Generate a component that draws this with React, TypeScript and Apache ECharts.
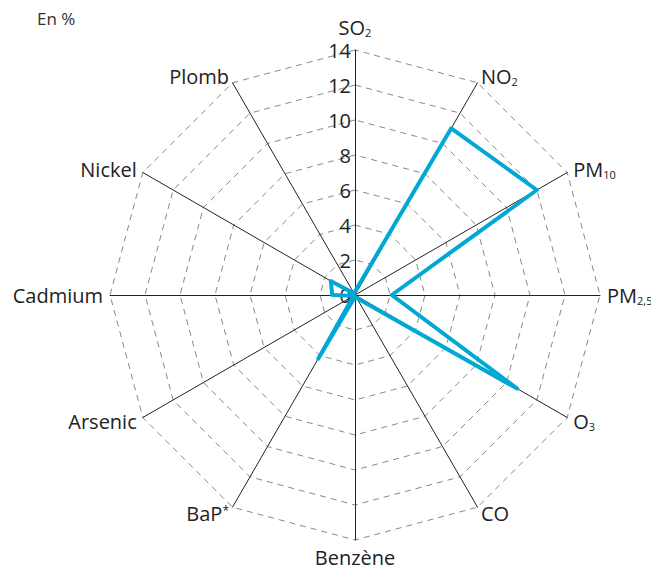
import React, { useEffect, useRef } from "react";
import * as echarts from "echarts";

// Indicators in clockwise order starting at the top
const indicatorNames = ["SO{sub|2}", "NO{sub|2}", "PM{sub|10}", "PM{sub|2,5}", "O{sub|3}", "CO", "Benzène", "BaP{sup|*}", "Arsenic", "Cadmium", "Nickel", "Plomb"];
const values = [0.2, 11, 12, 2.1, 10.7, 0.2, 0.1, 4.2, 0.1, 1.3, 1.6, 0.1];
const maxValue = 14;
const unitLabel = "En %";

export default function App() {
  const ref = useRef<HTMLDivElement>(null);
  useEffect(() => {
    if (!ref.current) return;
    const chart = echarts.init(ref.current, undefined, { renderer: "svg" });
    const font = "'Open Sans', 'Noto Sans', sans-serif";
    // ECharts radar runs counter-clockwise: reverse all but the first
    const order = [0, ...indicatorNames.map((_, i) => i).slice(1).reverse()];
    const names = order.map((i) => indicatorNames[i]);
    const vals = order.map((i) => values[i]);
    chart.setOption({
      animation: false,
      backgroundColor: "#ffffff",
      textStyle: { fontFamily: font },
      graphic: [
        {
          type: "text",
          left: 37,
          top: 10,
          style: { text: unitLabel, fontSize: 17, fill: "#333", fontFamily: font },
        },
      ],
      radar: {
        center: [355, 295],
        radius: 245,
        startAngle: 90,
        shape: "polygon",
        splitNumber: 7,
        nameGap: 7,
        axisName: {
          color: "#222",
          fontSize: 20,
          fontFamily: font,
          rich: {
            sub: { fontSize: 11, color: "#222", fontFamily: font, padding: [10, 0, 0, 0] },
            sup: { fontSize: 12, color: "#222", fontFamily: font, padding: [0, 0, 6, 0] },
          },
        },
        indicator: names.map((n, i) => ({
          name: n,
          min: 0,
          max: maxValue,
          ...(i === 0
            ? { nameGap: 12, axisLabel: { show: true, color: "#222", fontSize: 20, fontFamily: font, margin: 4 } }
            : {}),
        })),
        axisLabel: { show: false },
        axisLine: { lineStyle: { color: "#222", width: 1 } },
        axisTick: { show: false },
        splitLine: { lineStyle: { color: "#888", type: [6, 5], width: 1 } },
        splitArea: { show: false },
      },
      series: [
        {
          type: "radar",
          symbol: "none",
          lineStyle: { color: "#00a8d4", width: 4 },
          data: [{ value: vals }],
        },
      ],
    });
    return () => chart.dispose();
  }, []);
  return <div ref={ref} style={{ position: "fixed", left: 0, top: 0, width: 651, height: 569 }} />;
}
